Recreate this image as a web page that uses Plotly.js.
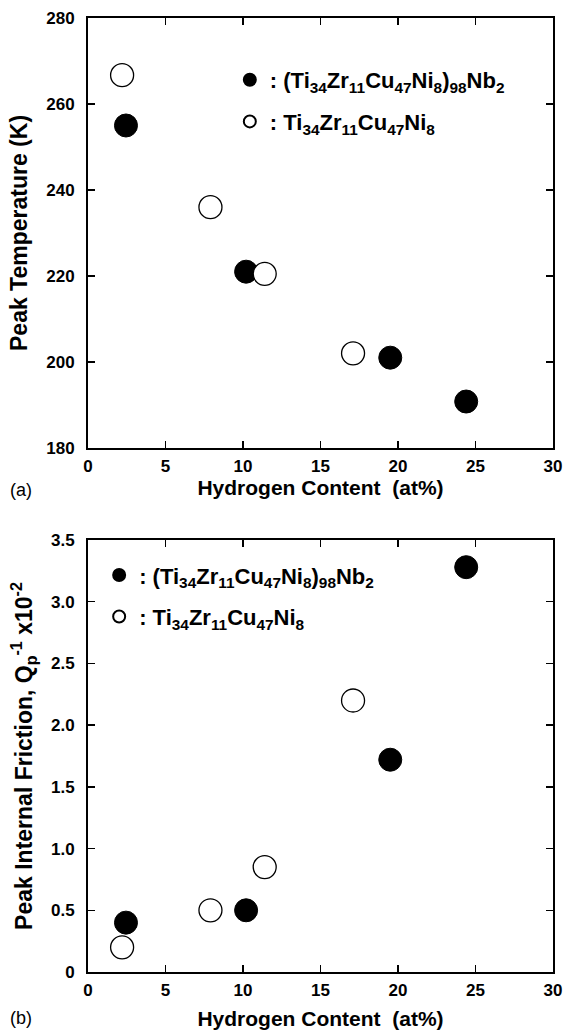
<!DOCTYPE html>
<html><head><meta charset="utf-8">
<script src="https://cdn.plot.ly/plotly-3.0.1.min.js"></script>
<style>html,body{margin:0;padding:0;background:#fff}#chart{width:564px;height:1032px}</style>
</head><body><div id="chart"></div>
<script>
// Hydrogen content (at%)
const hydrogenNb = [2.45, 10.2, 19.5, 24.4];
const hydrogenBase = [2.2, 7.9, 11.4, 17.1];
// (a) Peak temperature (K)
const peakTempNb = [255, 221, 201, 190.8];
const peakTempBase = [266.7, 236, 220.5, 202];
// (b) Peak internal friction Qp^-1 (x10^-2)
const frictionNb = [0.40, 0.50, 1.72, 3.28];
const frictionBase = [0.20, 0.50, 0.85, 2.20];
// ticks
const xTicks = [0, 5, 10, 15, 20, 25, 30];
const tempTicks = [180, 200, 220, 240, 260, 280];
const frictionTicks = [0, 0.5, 1, 1.5, 2, 2.5, 3, 3.5];
const frictionTickText = ['0', '0.5', '1.0', '1.5', '2.0', '2.5', '3.0', '3.5'];
// series names
const nameNb = ': (Ti<sub>34</sub>Zr<sub>11</sub>Cu<sub>47</sub>Ni<sub>8</sub>)<sub>98</sub>Nb<sub>2</sub>';
const nameBase = ': Ti<sub>34</sub>Zr<sub>11</sub>Cu<sub>47</sub>Ni<sub>8</sub>';

const FAM = 'Liberation Sans, Arial, Helvetica, sans-serif';
const filled = {size: 23, color: '#000', line: {color: '#000', width: 1}};
const open = {size: 23, color: '#fff', line: {color: '#000', width: 1.3}};

const traces = [
  {x: hydrogenNb, y: peakTempNb, type: 'scatter', mode: 'markers', name: nameNb, marker: filled, xaxis: 'x', yaxis: 'y', legend: 'legend', legendgroup: 'a1'},
  {x: hydrogenBase, y: peakTempBase, type: 'scatter', mode: 'markers', name: nameBase, marker: open, xaxis: 'x', yaxis: 'y', legend: 'legend', legendgroup: 'a2'},
  {x: hydrogenNb, y: frictionNb, type: 'scatter', mode: 'markers', name: nameNb, marker: filled, xaxis: 'x2', yaxis: 'y2', legend: 'legend2', legendgroup: 'b1'},
  {x: hydrogenBase, y: frictionBase, type: 'scatter', mode: 'markers', name: nameBase, marker: open, xaxis: 'x2', yaxis: 'y2', legend: 'legend2', legendgroup: 'b2'}
];

function axisBase() {
  return {
    showline: true, linecolor: '#000', linewidth: 2, mirror: 'ticks',
    ticks: 'inside', ticklen: 7, tickwidth: 1.5, tickcolor: '#000',
    showgrid: false, zeroline: false,
    tickfont: {family: FAM, size: 17, color: '#000', weight: 'bold'}
  };
}
const xTitleFont = {family: FAM, size: 21, color: '#000', weight: 'bold'};
const yTitleFont = {family: FAM, size: 23, color: '#000', weight: 'bold'};
const legendFont = {family: FAM, size: 22, color: '#000', weight: 'bold'};

const layout = {
  width: 564, height: 1032,
  margin: {l: 88, r: 11, t: 18, b: 60},
  paper_bgcolor: '#fff', plot_bgcolor: '#fff',
  font: {family: FAM, color: '#000'},
  showlegend: true,
  xaxis: Object.assign(axisBase(), {domain: [0, 1], anchor: 'y', range: [0, 30], tickvals: xTicks, ticklabelstandoff: 2,
    title: {text: 'Hydrogen Content\u00a0 (at%)', font: xTitleFont, standoff: 4}}),
  yaxis: Object.assign(axisBase(), {domain: [0.5493, 1], anchor: 'x', range: [180, 280], tickvals: tempTicks, ticklabelstandoff: 8,
    title: {text: 'Peak Temperature (K)', font: yTitleFont, standoff: 12}}),
  xaxis2: Object.assign(axisBase(), {domain: [0, 1], anchor: 'y2', range: [0, 30], tickvals: xTicks, ticklabelstandoff: 2,
    title: {text: 'Hydrogen Content\u00a0 (at%)', font: xTitleFont, standoff: 12}}),
  yaxis2: Object.assign(axisBase(), {domain: [0, 0.4528], anchor: 'x2', range: [0, 3.5], tickvals: frictionTicks, ticktext: frictionTickText, ticklabelstandoff: 8,
    title: {text: 'Peak Internal Friction, Q<sub>p</sub><sup>-1</sup> x10<sup>-2</sup>', font: yTitleFont, standoff: 12}}),
  legend: {x: 0.305, y: 0.957, xanchor: 'left', yanchor: 'top', bgcolor: 'rgba(0,0,0,0)', borderwidth: 0,
    font: legendFont, itemsizing: 'constant', traceorder: 'grouped', tracegroupgap: 10},
  legend2: {x: 0.024, y: 0.438, xanchor: 'left', yanchor: 'top', bgcolor: 'rgba(0,0,0,0)', borderwidth: 0,
    font: legendFont, itemsizing: 'constant', traceorder: 'grouped', tracegroupgap: 10},
  annotations: [
    {text: '(a)', xref: 'paper', yref: 'paper', x: -0.172, y: 0.5052, xanchor: 'left', yanchor: 'middle', showarrow: false, font: {family: FAM, size: 18, color: '#000'}},
    {text: '(b)', xref: 'paper', yref: 'paper', x: -0.172, y: -0.0482, xanchor: 'left', yanchor: 'middle', showarrow: false, font: {family: FAM, size: 18, color: '#000'}}
  ]
};

Plotly.newPlot('chart', traces, layout, {displayModeBar: false, staticPlot: true});
</script>
</body></html>
